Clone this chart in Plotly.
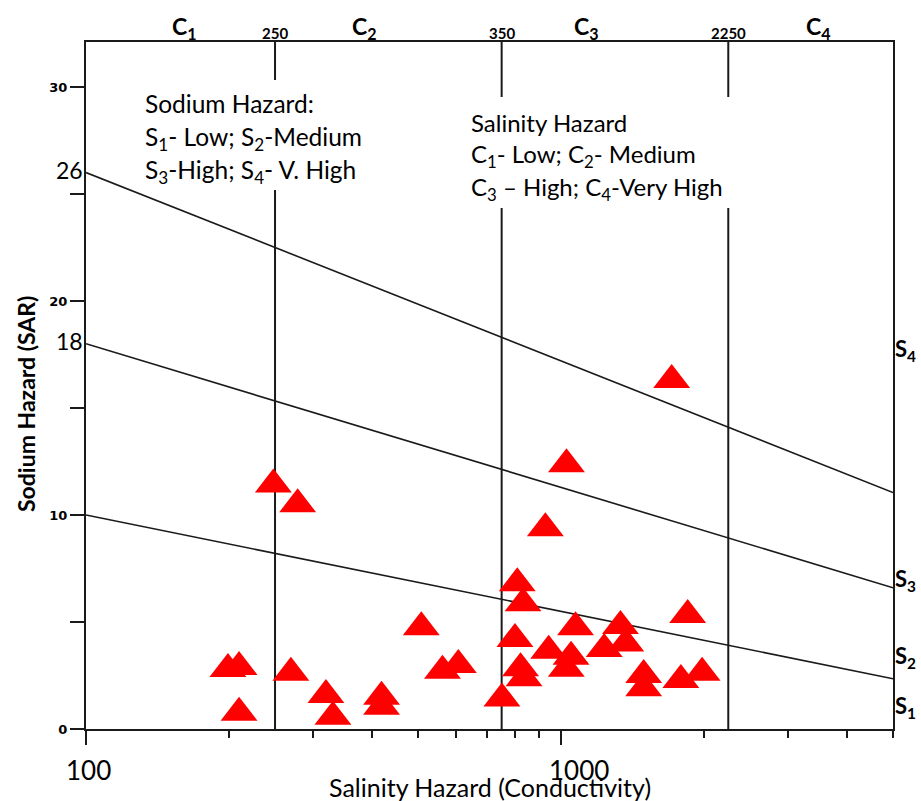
import plotly.graph_objects as go
import math

# ---------------- data ----------------
ec_values = [248, 279, 199, 210, 210, 270, 320, 331, 508, 563, 608, 419, 419,
             751, 809, 832, 800, 822, 836, 1027, 927, 942, 1073, 1050, 1026,
             1233, 1334, 1369, 1493, 1493, 1788, 1982, 1848, 1710]
sar_values = [11.43, 10.50, 2.80, 2.90, 0.76, 2.63, 1.59, 0.57, 4.75, 2.72, 2.99,
              1.51, 1.04, 1.43, 6.81, 5.87, 4.21, 2.84, 2.37, 12.37, 9.38, 3.66,
              4.75, 3.38, 2.82, 3.74, 4.81, 4.00, 2.52, 1.90, 2.29, 2.63, 5.33, 16.31]

salinity_bounds = [250, 750, 2250]
salinity_bound_labels = ["250", "350", "2250"]
salinity_classes = ["C<sub>1</sub>", "C<sub>2</sub>", "C<sub>3</sub>", "C<sub>4</sub>"]

sodium_line_ec = [100, 5000]
sodium_line_start = [26, 18, 10]
sodium_line_end = [11.05, 6.6, 2.35]
sodium_start_labels = ["26", "18"]
sodium_classes = ["S<sub>4</sub>", "S<sub>3</sub>", "S<sub>2</sub>", "S<sub>1</sub>"]

y_tickvals = [0, 5, 10, 15, 20, 25, 30]
y_ticktext = ["0", "", "10", "", "20", "", "30"]
x_ticklabels = ["100", "1000"]
x_minor = [200, 300, 400, 500, 600, 700, 800, 900, 2000, 3000, 4000, 5000]

Y_MAX = 32.1
X_MAX = 5000

FONT = "Lato"

fig = go.Figure()

# vertical salinity class boundaries
vx, vy = [], []
for b in salinity_bounds:
    vx += [b, b, None]
    vy += [0, Y_MAX, None]
fig.add_trace(go.Scatter(x=vx, y=vy, mode="lines",
                         line=dict(color="#1a1a1a", width=2),
                         hoverinfo="skip", showlegend=False))

# sloped sodium class boundaries
for s0, s1 in zip(sodium_line_start, sodium_line_end):
    fig.add_trace(go.Scatter(x=sodium_line_ec, y=[s0, s1], mode="lines",
                             line=dict(color="#1a1a1a", width=1.6),
                             hoverinfo="skip", showlegend=False))

# samples
fig.add_trace(go.Scatter(x=ec_values, y=sar_values, mode="markers",
                         marker=dict(symbol="triangle-up", size=32, color="#ff0000",
                                     line=dict(width=0)),
                         hoverinfo="x+y", showlegend=False))

L, R, T, B = 86, 28, 42, 72
W, H = 921, 801
PW, PH = W - L - R, H - T - B


def px2paper(px, py):
    return (px - L) / PW, (H - B - py) / PH


shapes = []
for (x0p, y0p, x1p, y1p) in [(144, 80, 368, 190), (466, 97, 736, 208)]:
    a, b_ = px2paper(x0p, y1p)
    c, d = px2paper(x1p, y0p)
    shapes.append(dict(type="rect", xref="paper", yref="paper", x0=a, y0=b_, x1=c, y1=d,
                       fillcolor="white", line=dict(width=0), layer="above"))

ann = []
black = "#000000"

# top class labels
class_px = [184, 364, 586, 818]
for txt, cx in zip(salinity_classes, class_px):
    xp, _ = px2paper(cx, 0)
    ann.append(dict(text="<b>%s</b>" % txt, x=xp, xref="paper", y=1, yref="paper",
                    xanchor="center", yanchor="bottom", yshift=-3, showarrow=False,
                    font=dict(family=FONT, size=23, color=black)))
for txt, bx in zip(salinity_bound_labels, salinity_bounds):
    ann.append(dict(text="<b>%s</b>" % txt, x=math.log10(bx), xref="x", y=1, yref="paper",
                    xanchor="center", yanchor="bottom", yshift=-2, showarrow=False,
                    font=dict(family=FONT, size=15, color=black)))

# right-side sodium class labels
s_py = [350, 580, 657, 707]
for txt, sy in zip(sodium_classes, s_py):
    _, yp = px2paper(0, sy)
    ann.append(dict(text="<b>%s</b>" % txt, x=1, xref="paper", y=yp, yref="paper",
                    xanchor="left", yanchor="middle", xshift=0, showarrow=False,
                    font=dict(family=FONT, size=22, color=black)))

# line start values
for txt, v in zip(sodium_start_labels, sodium_line_start):
    ann.append(dict(text=txt, x=0, xref="paper", y=v, yref="y",
                    xanchor="right", yanchor="middle", xshift=-1, yshift=3, showarrow=False,
                    font=dict(family=FONT, size=23, color=black)))

# legend text blocks
sod_lines = ["Sodium Hazard:", "S<sub>1</sub>- Low; S<sub>2</sub>-Medium",
             "S<sub>3</sub>-High; S<sub>4</sub>- V. High"]
for txt, ly in zip(sod_lines, [104, 138, 171]):
    xp, yp = px2paper(143, ly)
    ann.append(dict(text=txt, x=xp, xref="paper", y=yp, yref="paper",
                    xanchor="left", yanchor="middle", showarrow=False,
                    font=dict(family=FONT, size=24.5, color=black)))
sal_lines = ["Salinity Hazard", "C<sub>1</sub>- Low; C<sub>2</sub>- Medium",
             "C<sub>3</sub> – High; C<sub>4</sub>-Very High"]
for txt, ly in zip(sal_lines, [122, 155, 188]):
    xp, yp = px2paper(469, ly)
    ann.append(dict(text=txt, x=xp, xref="paper", y=yp, yref="paper",
                    xanchor="left", yanchor="middle", showarrow=False,
                    font=dict(family=FONT, size=24, color=black)))

# x tick labels
for txt, shift in zip(x_ticklabels, [2, 18]):
    ann.append(dict(text=txt, x=math.log10(float(txt)), xref="x", y=0, yref="paper",
                    xanchor="center", yanchor="top", xshift=shift, yshift=-23, showarrow=False,
                    font=dict(family=FONT, size=26, color=black)))

# axis titles
ann.append(dict(text="Salinity Hazard (Conductivity)", x=0.5, xref="paper", y=0, yref="paper",
                xanchor="center", yanchor="top", yshift=-41, showarrow=False,
                font=dict(family=FONT, size=25, color=black)))
_, ty = px2paper(0, 404)
ann.append(dict(text="<b>Sodium Hazard (SAR)</b>", x=0, xref="paper", y=ty, yref="paper",
                xanchor="center", yanchor="middle", xshift=-60, textangle=-90, showarrow=False,
                font=dict(family=FONT, size=23, color=black)))

fig.update_layout(
    width=W, height=H,
    margin=dict(l=L, r=R, t=T, b=B),
    paper_bgcolor="white", plot_bgcolor="white",
    shapes=shapes, annotations=ann,
    xaxis=dict(type="log", range=[2, math.log10(X_MAX)], showgrid=False, zeroline=False,
               showline=True, linecolor="#1a1a1a", linewidth=2, mirror=True,
               tickmode="array", tickvals=[100, 1000], ticktext=["", ""],
               ticks="outside", ticklen=14, tickwidth=2, tickcolor="#1a1a1a",
               minor=dict(tickmode="array", tickvals=x_minor, ticks="outside",
                          ticklen=7, tickwidth=2, tickcolor="#1a1a1a", showgrid=False)),
    yaxis=dict(range=[0, Y_MAX], showgrid=False, zeroline=False,
               showline=True, linecolor="#1a1a1a", linewidth=2, mirror=True,
               tickmode="array", tickvals=y_tickvals, ticktext=y_ticktext,
               ticks="outside", ticklen=14, tickwidth=2, tickcolor="#1a1a1a",
               tickfont=dict(family="DejaVu Sans", size=13, color=black, weight="bold")),
)

fig.write_html("out.html",
               config={"displayModeBar": False},
               post_script="document.body.style.margin='0';document.body.style.overflow='hidden';")
